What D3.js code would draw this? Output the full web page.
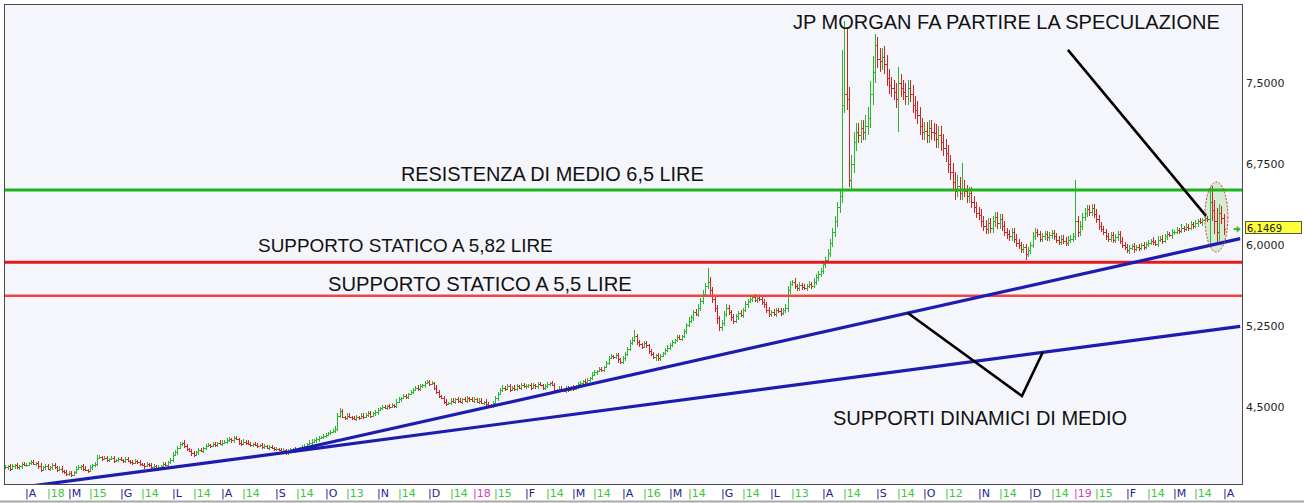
<!DOCTYPE html>
<html><head><meta charset="utf-8">
<script src="https://cdn.jsdelivr.net/npm/d3@7"></script>
<style>html,body{margin:0;padding:0;background:#fff;}svg{display:block}</style>
</head><body>
<svg id="c" width="1304" height="503"></svg>
<script>
// ---------- DATA ----------
const calendarStart = "2017-03-21";
const calendarEnd = "2019-04-10";
const holidays = ["2017-04-14","2017-04-17","2017-05-01","2017-12-25","2017-12-26","2018-01-01",
  "2018-03-30","2018-04-02","2018-05-01","2018-12-25","2018-12-26","2019-01-01"];

// daily closes (one per trading day from 2017-03-21)
const closes = [
// Mar 2017
3.94,3.95,3.93,3.95,3.96,3.94,3.95,3.97,3.96,
// Apr 2017
3.96,3.98,3.99,3.97,3.98,3.95,3.92,3.94,3.95,3.93,3.94,3.96,3.94,3.92,3.93,3.91,3.90,3.88,
// May 2017
3.89,3.87,3.90,3.93,3.94,3.95,3.93,3.92,3.91,3.94,3.96,3.97,4.03,4.04,4.02,4.03,4.01,4.02,4.03,4.00,4.01,4.02,
// Jun 2017
4.01,4.00,4.02,4.00,3.99,3.98,4.00,3.99,3.97,3.96,3.95,3.97,3.96,3.94,3.95,3.93,3.94,3.95,3.97,3.96,3.99,4.01,
// Jul 2017
4.06,4.08,4.12,4.16,4.17,4.14,4.11,4.09,4.07,4.06,4.08,4.10,4.09,4.12,4.14,4.15,4.14,4.16,4.15,4.17,4.16,
// Aug 2017
4.17,4.18,4.19,4.20,4.19,4.21,4.20,4.17,4.16,4.18,4.17,4.16,4.15,4.16,4.15,4.14,4.15,4.13,4.14,4.12,4.13,4.12,4.11,
// Sep 2017
4.11,4.10,4.09,4.10,4.08,4.09,4.10,4.11,4.09,4.10,4.12,4.13,4.14,4.16,4.17,4.18,4.19,4.20,4.21,4.22,4.23,
// Oct 2017
4.24,4.26,4.27,4.28,4.30,4.42,4.46,4.41,4.40,4.42,4.41,4.40,4.39,4.41,4.40,4.42,4.41,4.43,4.44,4.42,4.44,4.45,
// Nov 2017
4.47,4.49,4.50,4.49,4.51,4.50,4.52,4.51,4.55,4.57,4.58,4.60,4.59,4.62,4.64,4.66,4.68,4.67,4.69,4.70,4.72,4.73,
// Dec 2017
4.71,4.72,4.68,4.64,4.60,4.58,4.55,4.53,4.54,4.56,4.55,4.57,4.56,4.55,4.57,4.56,4.58,4.57,4.56,
// Jan 2018
4.57,4.55,4.56,4.54,4.55,4.53,4.52,4.51,4.54,4.58,4.62,4.66,4.68,4.67,4.69,4.66,4.68,4.67,4.69,4.68,4.70,4.69,
// Feb 2018
4.69,4.70,4.68,4.70,4.69,4.71,4.70,4.68,4.69,4.71,4.72,4.70,4.66,4.65,4.67,4.66,4.65,4.67,4.66,4.68,
// Mar 2018
4.67,4.69,4.71,4.72,4.74,4.73,4.75,4.77,4.80,4.82,4.83,4.85,4.84,4.87,4.91,4.95,4.97,4.96,4.98,4.94,4.92,
// Apr 2018
4.95,4.99,5.04,5.09,5.12,5.16,5.10,5.08,5.06,5.09,5.07,5.02,4.99,4.96,4.98,4.95,4.97,5.00,5.03,5.05,
// May 2018
5.07,5.10,5.12,5.15,5.13,5.16,5.20,5.26,5.30,5.33,5.38,5.36,5.42,5.48,5.55,5.62,5.66,5.58,5.50,5.42,5.32,5.24,
// Jun 2018
5.28,5.36,5.42,5.38,5.33,5.30,5.34,5.37,5.35,5.40,5.45,5.48,5.50,5.52,5.49,5.51,5.50,5.47,5.45,5.40,5.36,
// Jul 2018
5.38,5.36,5.40,5.39,5.37,5.40,5.42,5.58,5.64,5.66,5.62,5.60,5.63,5.61,5.60,5.62,5.64,5.62,5.66,5.70,5.73,5.76,
// Aug 2018
5.82,5.86,5.93,6.02,6.12,6.22,6.35,6.45,7.30,7.40,7.35,6.60,6.75,6.95,7.05,7.02,7.08,7.05,7.10,7.18,7.40,7.60,7.85,
// Sep 2018
7.72,7.70,7.74,7.68,7.55,7.48,7.45,7.42,7.35,7.50,7.45,7.42,7.38,7.45,7.40,7.30,7.25,7.20,7.10,7.05,
// Oct 2018
7.06,7.02,7.08,7.05,7.04,6.98,7.02,6.95,6.90,6.85,6.75,6.68,6.58,6.50,6.55,6.48,6.52,6.50,6.45,6.48,6.40,6.35,6.30,
// Nov 2018
6.28,6.22,6.18,6.15,6.20,6.16,6.22,6.26,6.20,6.24,6.18,6.12,6.10,6.08,6.12,6.06,6.02,6.00,5.96,5.98,5.92,5.95,
// Dec 2018
6.00,6.08,6.12,6.10,6.06,6.08,6.10,6.07,6.09,6.11,6.08,6.05,6.03,6.06,6.04,6.02,6.05,6.06,6.08,
// Jan 2019
6.22,6.12,6.18,6.26,6.30,6.33,6.31,6.34,6.29,6.24,6.18,6.15,6.12,6.08,6.06,6.09,6.05,6.07,6.10,6.04,6.00,5.98,
// Feb 2019
5.95,5.97,5.99,5.96,5.98,5.97,6.00,5.98,6.01,6.02,6.04,6.03,6.01,6.05,6.06,6.04,6.08,6.10,6.09,6.12,
// Mar 2019
6.12,6.14,6.13,6.16,6.15,6.17,6.16,6.19,6.18,6.20,6.22,6.21,6.23,6.25,6.24,6.40,6.32,6.22,6.12,6.30,6.25,
// Apr 2019
6.1469
];

// daily upper shadow (cents above the higher of open/close)
const upperShadow = [
2,1,2,2,1,2,1,2,2,
2,1,2,2,1,2,3,1,2,2,1,2,2,1,2,2,1,2,
2,2,1,2,2,1,2,2,1,2,1,2,3,2,1,2,2,1,2,2,1,2,
2,1,2,2,1,2,2,1,2,1,2,2,1,2,2,1,2,1,2,2,1,2,
2,2,2,2,1,2,2,1,2,2,1,2,2,1,2,2,1,2,2,1,2,
2,1,2,2,1,2,2,1,2,2,1,2,2,1,2,2,1,2,2,1,2,2,1,
2,1,2,2,1,2,2,1,2,2,1,2,2,1,2,2,1,2,2,1,2,
2,1,2,2,2,2,3,2,1,2,2,1,2,2,1,2,2,1,2,2,1,2,
2,1,2,2,1,2,2,1,2,2,1,2,2,1,2,2,1,2,2,1,2,2,
2,2,1,2,2,1,2,2,1,2,2,1,2,2,1,2,2,1,2,
2,1,2,2,1,2,2,1,2,2,2,2,2,1,2,2,1,2,2,1,2,2,
2,1,2,2,1,2,2,1,2,2,1,2,2,1,2,2,1,2,2,1,
2,1,2,2,1,2,2,1,2,2,1,2,2,1,2,2,2,1,2,2,1,
2,2,2,3,3,5,2,2,1,2,2,1,2,2,1,2,2,1,2,2,
2,2,1,2,2,1,2,2,3,2,2,3,3,3,3,3,13,4,3,3,2,2,
3,3,3,2,2,3,2,2,3,2,3,2,3,2,3,2,3,2,3,2,3,
2,3,2,2,3,2,3,4,3,2,3,2,3,2,3,2,3,2,3,3,3,3,
3,3,3,4,4,5,5,5,51,67,60,11,8,10,8,8,8,8,10,10,12,15,10,
8,10,8,10,8,8,8,8,8,15,8,8,8,8,8,8,8,8,8,8,
8,8,8,8,8,8,8,8,8,8,8,8,8,10,10,8,24,8,6,6,6,5,5,
5,5,5,5,5,5,5,5,5,5,5,4,4,4,4,4,4,4,3,3,3,3,
3,4,4,3,3,3,3,3,3,3,3,3,3,3,3,3,3,3,3,
38,5,4,4,4,4,4,4,4,4,4,3,3,3,3,3,3,3,3,3,3,3,
3,3,2,3,2,3,2,3,2,3,2,3,2,3,2,3,2,3,2,3,
2,3,2,3,2,3,2,3,2,3,2,3,2,3,2,14,15,10,12,8,6,
4
];

// daily lower shadow (cents below the lower of open/close)
const lowerShadow = [
1,2,2,1,2,1,2,2,1,
2,1,2,1,2,2,2,1,2,1,2,2,1,2,1,2,2,2,
2,2,1,2,1,2,2,1,2,1,2,2,2,1,2,1,2,2,1,2,1,2,
1,2,2,1,2,2,1,2,2,1,2,1,2,2,1,2,2,1,2,1,2,2,
2,1,2,1,2,2,2,1,2,2,1,2,1,2,2,1,2,1,2,2,1,
2,1,2,1,2,2,1,2,2,1,2,1,2,2,1,2,1,2,2,1,2,1,2,
2,1,2,1,2,2,1,2,2,1,2,1,2,2,1,2,1,2,2,1,2,
2,1,2,1,2,2,2,1,2,2,1,2,1,2,2,1,2,1,2,2,1,2,
2,1,2,1,2,2,1,2,2,1,2,1,2,2,1,2,1,2,2,1,2,1,
2,1,2,2,2,1,2,2,1,2,1,2,2,1,2,1,2,2,1,
2,1,2,1,2,2,1,2,2,1,2,1,2,2,1,2,1,2,2,1,2,1,
2,1,2,1,2,2,1,2,2,1,2,1,3,2,1,2,1,2,2,1,
2,1,2,1,2,2,1,2,2,1,2,1,2,2,1,2,1,2,2,3,2,
2,2,2,2,2,2,3,2,2,1,2,3,2,2,3,2,2,1,2,2,
2,1,2,2,1,2,2,2,2,2,3,2,3,3,3,3,3,4,4,4,5,4,
4,3,3,3,3,3,2,3,2,3,2,3,2,3,2,3,2,3,3,3,3,
3,2,3,2,3,2,3,4,3,2,3,3,3,3,2,3,2,3,2,3,3,3,
3,3,3,4,4,5,5,5,6,8,10,6,10,8,8,8,8,8,8,8,10,10,10,
8,10,8,10,8,8,8,8,8,30,8,8,8,8,8,8,8,8,8,8,
8,8,8,8,8,8,8,8,8,8,8,8,8,8,6,6,6,6,6,6,6,5,5,
5,5,5,5,5,5,5,5,5,5,5,4,4,4,4,4,4,4,3,3,6,3,
3,3,3,3,3,3,3,3,3,3,3,3,3,3,3,3,3,3,3,
3,5,4,4,4,4,4,4,4,4,4,3,3,3,3,3,3,3,3,3,3,3,
2,3,2,3,2,3,2,3,2,3,2,3,2,3,2,3,2,3,2,3,
3,2,3,2,3,2,3,2,3,2,3,2,3,2,3,24,10,12,12,8,6,
5
];

const yTickValues = [4.5, 5.25, 6.0, 6.75, 7.5];
const monthTicks = ["2017-04","2017-05","2017-06","2017-07","2017-08","2017-09","2017-10","2017-11","2017-12",
  "2018-02","2018-03","2018-04","2018-05","2018-06","2018-07","2018-08","2018-09","2018-10","2018-11","2018-12",
  "2019-02","2019-03","2019-04"];
const monthLabels = ["A","M","G","L","A","S","O","N","D","F","M","A","M","G","L","A","S","O","N","D","F","M","A"];
const dayTicks = ["2017-04-18","2017-05-15","2017-06-14","2017-07-14","2017-08-14","2017-09-14","2017-10-13",
  "2017-11-14","2017-12-14","2018-01-15","2018-02-14","2018-03-14","2018-04-16","2018-05-14","2018-06-14",
  "2018-07-13","2018-08-14","2018-09-14","2018-10-12","2018-11-14","2018-12-14","2019-01-15","2019-02-14","2019-03-14"];
const yearTicks = ["2018-01","2019-01"];
const yearLabels = ["18","19"];

// horizontal levels
const levelValues = [6.51, 5.84, 5.53];
// trend lines: [date, value] endpoints
const trendLines = [
  [["2017-03-21", 3.737], ["2019-04-10", 5.247]],
  [["2017-09-11", 4.09], ["2019-04-10", 6.059]]
];
// pointer lines: [bar index, value]
const pointerLines = [
  [[450.9, 7.806], [509.5, 6.269]],
  [[383.0, 5.370], [431.4, 4.602], [440.3, 5.009]]
];
// annotation texts: [bar index, value, text]
const notes = [
  [334.25, 8.0, "JP MORGAN FA PARTIRE LA SPECULAZIONE"],
  [167.9, 6.593, "RESISTENZA DI MEDIO 6,5 LIRE"],
  [107.3, 5.935, "SUPPORTO STATICO A 5,82 LIRE"],
  [137.0, 5.574, "SUPPORTO STATICO A 5,5 LIRE"],
  [351.2, 4.333, "SUPPORTI DINAMICI DI MEDIO"]
];
// highlight ellipse: centre index/value and half sizes
const ellipseCenter = [513.9, 6.259];
const ellipseHalf = [4.88, 0.324];

// ---------- CALENDAR ----------
const hol = new Set(holidays);
const days = [];
for (let d = new Date(calendarStart + "T12:00:00Z"); d <= new Date(calendarEnd + "T12:00:00Z"); d.setUTCDate(d.getUTCDate() + 1)) {
  const wd = d.getUTCDay();
  const s = d.toISOString().slice(0, 10);
  if (wd > 0 && wd < 6 && !hol.has(s)) days.push(s);
}
const idxOf = new Map(days.map((s, i) => [s, i]));
const firstOfMonth = m => days.findIndex(s => s.startsWith(m));

// ---------- STYLE ----------
const levelColors = ["#1db31d", "#e41b1b", "#ef4545"];
const noteFontSizes = [20, 19.9, 18.9, 20.2, 20];

// ---------- SCALES ----------
const P = {l: 4, r: 1243, t: 4, b: 484};
const x = d3.scaleLinear().domain([-0.5, 525.2]).range([P.l, P.r]);
const y = d3.scaleLinear().domain([3.787, 8.2315]).range([P.b, P.t]);

const svg = d3.select("#c");
svg.append("rect").attr("x", 0).attr("y", 0).attr("width", 1304).attr("height", 503).attr("fill", "#fff");
svg.append("defs").append("clipPath").attr("id", "clip")
  .append("rect").attr("x", P.l).attr("y", P.t).attr("width", P.r - P.l).attr("height", P.b - P.t);
svg.append("rect").attr("x", P.l).attr("y", P.t).attr("width", P.r - P.l).attr("height", P.b - P.t)
  .attr("fill", "#f5f6fc");

const g = svg.append("g").attr("clip-path", "url(#clip)");

// ellipse fill
const ecx = x(ellipseCenter[0]), ecy = y(ellipseCenter[1]);
const erx = x(ellipseCenter[0] + ellipseHalf[0]) - ecx, ery = ecy - y(ellipseCenter[1] + ellipseHalf[1]);
g.append("ellipse").attr("cx", ecx).attr("cy", ecy).attr("rx", erx).attr("ry", ery)
  .attr("fill", "#cfe9cf").attr("fill-opacity", 0.85);

// bars
const n = Math.min(closes.length, upperShadow.length, lowerShadow.length);
const bars = [];
for (let i = 0; i < n; i++) {
  const c = closes[i], o = i ? closes[i - 1] : closes[0];
  bars.push({i, o, c, h: Math.max(o, c) + upperShadow[i] / 100, l: Math.min(o, c) - lowerShadow[i] / 100});
}
function barPath(b) {
  const X = Math.round(x(b.i));
  const yh = Math.round(y(b.h)), yl = Math.round(y(b.l));
  const yo = Math.round(y(b.o)), yc = Math.round(y(b.c));
  return `M${X + 0.5},${yh}V${Math.max(yl, yh + 1)}M${X - 1},${yo + 0.5}H${X + 0.5}M${X + 0.5},${yc + 0.5}H${X + 2}`;
}
g.append("path").attr("d", bars.filter(b => b.c >= b.o).map(barPath).join(""))
  .attr("stroke", "#2db52d").attr("stroke-width", 1).attr("fill", "none").attr("shape-rendering", "crispEdges");
g.append("path").attr("d", bars.filter(b => b.c < b.o).map(barPath).join(""))
  .attr("stroke", "#d42222").attr("stroke-width", 1).attr("fill", "none").attr("shape-rendering", "crispEdges");

// levels
levelValues.forEach((v, k) => {
  g.append("line").attr("x1", P.l).attr("x2", P.r).attr("y1", y(v)).attr("y2", y(v))
    .attr("stroke", levelColors[k]).attr("stroke-width", k === 2 ? 2.5 : 3);
});
// trend lines
trendLines.forEach(tl => {
  g.append("line")
    .attr("x1", x(idxOf.get(tl[0][0]))).attr("y1", y(tl[0][1]))
    .attr("x2", x(idxOf.get(tl[1][0]))).attr("y2", y(tl[1][1]))
    .attr("stroke", "#1c1cae").attr("stroke-width", 3.2);
});
// pointer lines
pointerLines.forEach(pl => {
  g.append("path").attr("d", d3.line().x(p => x(p[0])).y(p => y(p[1]))(pl))
    .attr("stroke", "#000").attr("stroke-width", 2.6).attr("fill", "none");
});
// ellipse outline
g.append("ellipse").attr("cx", ecx).attr("cy", ecy).attr("rx", erx).attr("ry", ery)
  .attr("fill", "none").attr("stroke", "#c83030").attr("stroke-width", 1).attr("stroke-dasharray", "2,1.5");

// notes
notes.forEach((nt, k) => {
  svg.append("text").attr("x", x(nt[0])).attr("y", y(nt[1])).text(nt[2])
    .attr("font-family", "'Liberation Sans', Arial, sans-serif").attr("font-size", noteFontSizes[k] + "px").attr("fill", "#111");
});

// frame
svg.append("rect").attr("x", P.l + 0.5).attr("y", P.t + 0.5).attr("width", P.r - P.l - 1).attr("height", P.b - P.t)
  .attr("fill", "none").attr("stroke", "#4a4a4a").attr("stroke-width", 1);

// right axis
yTickValues.forEach(v => {
  svg.append("text").attr("x", 1246).attr("y", y(v) + 4)
    .text(d3.format(".4f")(v).replace(".", ","))
    .attr("font-family", "'DejaVu Sans', Verdana, sans-serif").attr("font-size", "11px").attr("fill", "#222");
});

// bottom axis labels
function xLabel(i, label, color) {
  svg.append("text").attr("x", Math.round(x(i)) - 1).attr("y", 497).text("|" + label)
    .attr("font-family", "'DejaVu Sans', Verdana, sans-serif").attr("font-size", "11px").attr("fill", color);
}
monthTicks.forEach((m, k) => xLabel(firstOfMonth(m), monthLabels[k], "#23238e"));
dayTicks.forEach(dt => xLabel(idxOf.get(dt), String(+dt.slice(8)), "#3cc43c"));
yearTicks.forEach((m, k) => xLabel(firstOfMonth(m), yearLabels[k], "#d23cc8"));

// last price marker
const last = bars[bars.length - 1];
const ly = y(last.c);
const ax = x(last.i) + 10;
svg.append("path").attr("d", `M${ax},${ly}H${ax + 4}`).attr("stroke", "#33b833").attr("stroke-width", 2);
svg.append("path").attr("d", `M${ax + 3},${ly - 3.5}L${ax + 7},${ly}L${ax + 3},${ly + 3.5}Z`).attr("fill", "#33b833");
svg.append("rect").attr("x", 1245.5).attr("y", Math.round(ly) - 7.5).attr("width", 56).attr("height", 12)
  .attr("fill", "#ffff3a").attr("stroke", "#555").attr("stroke-width", 1);
svg.append("text").attr("x", 1247).attr("y", Math.round(ly) + 2.5)
  .text(d3.format(".4f")(last.c).replace(".", ","))
  .attr("font-family", "'DejaVu Sans', Verdana, sans-serif").attr("font-size", "10px").attr("fill", "#222");

// bottom rule
svg.append("line").attr("x1", 0).attr("x2", 1304).attr("y1", 501.5).attr("y2", 501.5)
  .attr("stroke", "#a8a8a8").attr("stroke-width", 2);
</script>
</body></html>
